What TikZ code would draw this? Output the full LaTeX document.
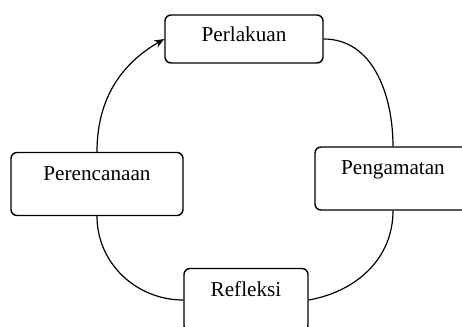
\documentclass[tikz,border=0pt]{standalone}
\usepackage{fontspec}
\setmainfont{Liberation Serif}
\usetikzlibrary{arrows.meta}
\tikzstyle{stage} = [rectangle, rounded corners=3pt, minimum height=31.5pt, inner sep=0pt, text height=8pt, text depth=12pt, text centered, draw=black, line width=0.7pt]
\tikzstyle{link} = [line width=0.6pt]
\tikzstyle{arrow} = [line width=0.6pt,-{Stealth[length=5pt,width=4pt]}]

\begin{document}
\begin{tikzpicture}[x=0.5pt, y=-0.5pt, font=\fontsize{10.6}{12}\selectfont]
        \clip (0,0) rectangle (462,327);
        \node (act) [stage, minimum width=79pt, minimum height=24pt, text depth=6pt] at (244,39) {Perlakuan};
        \node (plan) [stage, minimum width=86pt] at (97,184) {Perencanaan};
        \node (obs) [stage, minimum width=78pt] at (393,178.5) {Pengamatan};
        \node (refl) [stage, minimum width=62pt] at (246,300) {Refleksi};

        \draw [arrow] (plan.north) to[out=90, in=210] (act.west);
        \draw [link] (act.east) to[out=0, in=90] (obs.north);
        \draw [link] (refl.east) to[out=10, in=270] (obs.south);
        \draw [link] (plan.south) to[out=270, in=180] (refl.west);
        \end{tikzpicture}
\end{document}
